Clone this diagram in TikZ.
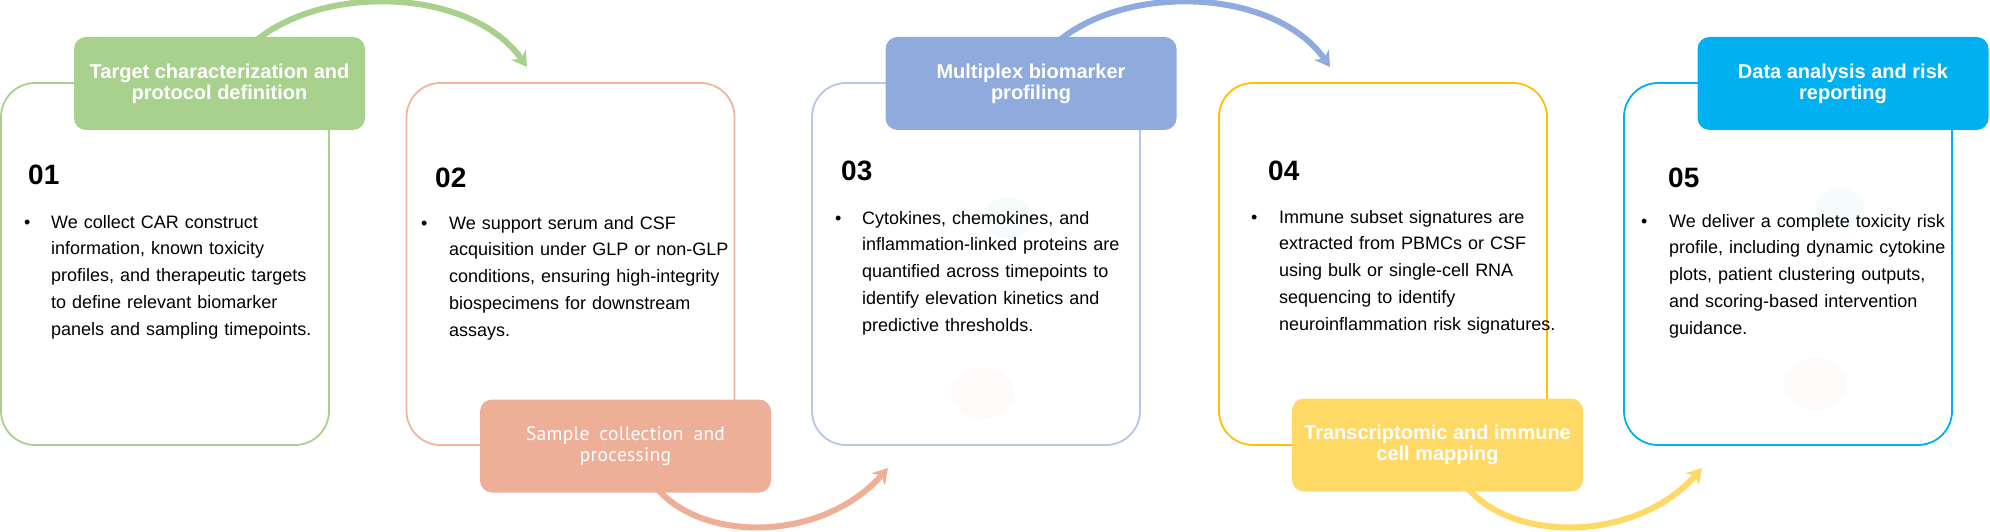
\documentclass[tikz,border=0pt]{standalone}
\usepackage{fontspec}
\setmainfont{Liberation Sans}
\newfontfamily\ttwofont[LetterSpace=1.5,WordSpace=1.8]{PT Sans}
\usetikzlibrary{arrows.meta}
\definecolor{cgreen}{HTML}{A9D18E}
\definecolor{csalline}{HTML}{F2B49C}
\definecolor{csal}{HTML}{EEAF98}
\definecolor{cblueline}{HTML}{B4C7E7}
\definecolor{cblue}{HTML}{8FAADC}
\definecolor{cgold}{HTML}{FFC000}
\definecolor{cyel}{HTML}{FFD966}
\definecolor{ccyan}{HTML}{00B0F0}
\definecolor{fcyan}{HTML}{F6FCFC}
\definecolor{fpink}{HTML}{FEFAF9}
\tikzset{
  card/.style={draw=#1, line width=1.8pt, rounded corners=34pt, minimum width=328pt, minimum height=362pt, inner sep=0pt},
  titlebox/.style={fill=#1, rounded corners=12pt, minimum width=291pt, minimum height=93pt, inner sep=0pt, text=white, align=center, font=\bfseries\fontsize{20}{21}\selectfont},
  num/.style={anchor=base west, inner sep=0pt, font=\bfseries\fontsize{28}{30}\selectfont},
  bul/.style={anchor=base west, inner sep=0pt, font=\fontsize{18}{26.8}\selectfont},
  body/.style={anchor=base west, inner sep=0pt, text width=300pt, align=left, font=\fontsize{18}{26.8}\selectfont},
  flow/.style={line width=6pt, draw=#1, -{Stealth[length=15pt,width=18pt,inset=5pt]}},
  blob/.style={fill=#1, draw=none}
}
\begin{document}
\begin{tikzpicture}[x=1pt,y=-1pt]
\useasboundingbox (0,0) rectangle (1990,532);
% faint decorations
\fill[fcyan] (1008,218) ellipse [x radius=25, y radius=21];
\fill[fpink] (983,393) ellipse [x radius=31, y radius=26];
\fill[fcyan] (1840,209) ellipse [x radius=25, y radius=21];
\fill[fpink] (1815,384) ellipse [x radius=31, y radius=26];
% arrow end points
\coordinate (g0) at (252,44);
\coordinate (g1) at (527,67);
\coordinate (s0) at (655,486);
\coordinate (s1) at (888,468);
\coordinate (u0) at (1055,44);
\coordinate (u1) at (1330,67);
\coordinate (y0) at (1466,486);
\coordinate (y1) at (1702,468);
% arrows (behind title boxes)
\draw[flow=cgreen] (g0) .. controls (322,-18) and (472,-12) .. (g1);
\draw[flow=csal] (s0) .. controls (700,543) and (822,543) .. (s1);
\draw[flow=cblue] (u0) .. controls (1125,-18) and (1275,-12) .. (u1);
\draw[flow=cyel] (y0) .. controls (1511,543) and (1636,543) .. (y1);
% cards
\node[card=cgreen] (b1) at (165,264) {};
\node[card=csalline] (b2) at (570.5,264) {};
\node[card=cblueline] (b3) at (976,264) {};
\node[card=cgold] (b4) at (1383,264) {};
\node[card=ccyan] (b5) at (1788,264) {};
% title boxes
\node[titlebox=cgreen] (t1) at (219.5,83.5) {Target characterization and\\protocol definition};
\node[titlebox=csal, font=\ttwofont\fontsize{19.5}{21}\selectfont] (t2) at (625.5,446) {Sample collection and\\processing};
\node[titlebox=cblue] (t3) at (1031,83.5) {Multiplex biomarker\\profiling};
\node[titlebox=cyel] (t4) at (1437.5,445) {Transcriptomic and immune\\cell mapping};
\node[titlebox=ccyan] (t5) at (1843,83.5) {Data analysis and risk\\reporting};
% numbers
\node[num] (n1) at (28,185) {01};
\node[num] (n2) at (435,187) {02};
\node[num] (n3) at (841,180) {03};
\node[num] (n4) at (1268,181) {04};
\node[num] (n5) at (1668,187) {05};
% bullets
\node[bul] (d1) at (24,228) {•};
\node[bul] (d2) at (421,229) {•};
\node[bul] (d3) at (835,224) {•};
\node[bul] (d4) at (1251,223) {•};
\node[bul] (d5) at (1641,227) {•};
% body texts
\node[body] (x1) at (51,228) {We collect CAR construct\\information, known toxicity\\profiles, and therapeutic targets\\to define relevant biomarker\\panels and sampling timepoints.};
\node[body] (x2) at (449,229) {We support serum and CSF\\acquisition under GLP or non-GLP\\conditions, ensuring high-integrity\\biospecimens for downstream\\assays.};
\node[body] (x3) at (862,224) {Cytokines, chemokines, and\\inflammation-linked proteins are\\quantified across timepoints to\\identify elevation kinetics and\\predictive thresholds.};
\node[body] (x4) at (1279,223) {Immune subset signatures are\\extracted from PBMCs or CSF\\using bulk or single-cell RNA\\sequencing to identify\\neuroinflammation risk signatures.};
\node[body] (x5) at (1669,227) {We deliver a complete toxicity risk\\profile, including dynamic cytokine\\plots, patient clustering outputs,\\and scoring-based intervention\\guidance.};
\end{tikzpicture}
\end{document}
